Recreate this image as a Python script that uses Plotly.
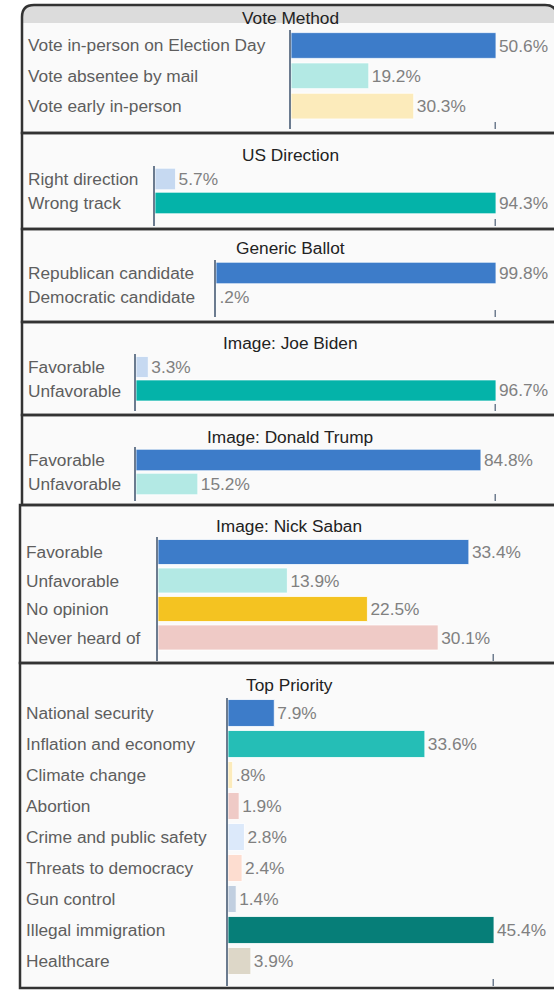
import plotly.graph_objects as go

W, H = 554, 990

# ---------------- data ----------------
vote_method_cats = ["Vote in-person on Election Day", "Vote absentee by mail", "Vote early in-person"]
vote_method_vals = [50.6, 19.2, 30.3]

us_direction_cats = ["Right direction", "Wrong track"]
us_direction_vals = [5.7, 94.3]

generic_ballot_cats = ["Republican candidate", "Democratic candidate"]
generic_ballot_vals = [99.8, 0.2]

biden_cats = ["Favorable", "Unfavorable"]
biden_vals = [3.3, 96.7]

trump_cats = ["Favorable", "Unfavorable"]
trump_vals = [84.8, 15.2]

saban_cats = ["Favorable", "Unfavorable", "No opinion", "Never heard of"]
saban_vals = [33.4, 13.9, 22.5, 30.1]

priority_cats = ["National security", "Inflation and economy", "Climate change", "Abortion",
                 "Crime and public safety", "Threats to democracy", "Gun control",
                 "Illegal immigration", "Healthcare"]
priority_vals = [7.9, 33.6, 0.8, 1.9, 2.8, 2.4, 1.4, 45.4, 3.9]

titles = ["Vote Method", "US Direction", "Generic Ballot", "Image: Joe Biden",
          "Image: Donald Trump", "Image: Nick Saban", "Top Priority"]

# ---------------- styling / layout config ----------------
BLUE, LTEAL, LYEL, LBLUE, TEAL = "#3d7cc9", "#b3e9e4", "#fcebbb", "#c6d9f1", "#04b3a9"
panels = [
    dict(cats=vote_method_cats, vals=vote_method_vals, colors=[BLUE, LTEAL, LYEL],
         xmax=50.6, axis_x=291, tick_x=496, top=30, c0=45.5, s=30.3, bottom=129, bw=0.85,
         label_x=26, title_y=18, py0=5, py1=133, left=22),
    dict(cats=us_direction_cats, vals=us_direction_vals, colors=[LBLUE, TEAL],
         xmax=94.3, axis_x=155, tick_x=496, top=166, c0=179, s=24, bottom=226, bw=0.9,
         label_x=26, title_y=155, py0=133, py1=229, left=22),
    dict(cats=generic_ballot_cats, vals=generic_ballot_vals, colors=[BLUE, LTEAL],
         xmax=99.8, axis_x=216, tick_x=496, top=260, c0=273, s=24, bottom=317, bw=0.9,
         label_x=26, title_y=248, py0=229, py1=322, left=22),
    dict(cats=biden_cats, vals=biden_vals, colors=[LBLUE, TEAL],
         xmax=96.7, axis_x=136, tick_x=496, top=354, c0=367, s=23.5, bottom=411, bw=0.9,
         label_x=26, title_y=343, py0=322, py1=415, left=22),
    dict(cats=trump_cats, vals=trump_vals, colors=[BLUE, LTEAL],
         xmax=88.5, axis_x=136, tick_x=496, top=447, c0=460, s=24, bottom=501, bw=0.9,
         label_x=26, title_y=437, py0=415, py1=505, left=22),
    dict(cats=saban_cats, vals=saban_vals, colors=[BLUE, LTEAL, "#f4c321", "#efcac6"],
         xmax=36.1, axis_x=158, tick_x=494, top=537, c0=552, s=28.5, bottom=661, bw=0.88,
         label_x=24, title_y=526, py0=505, py1=663, left=20),
    dict(cats=priority_cats, vals=priority_vals,
         colors=[BLUE, "#25beb6", LYEL, "#efcac6", "#dce9fa", "#fdddd0", "#c1cfe0", "#067e78", "#ddd7c8"],
         xmax=45.4, axis_x=228, tick_x=494, top=698, c0=713, s=31, bottom=986, bw=0.87,
         label_x=24, title_y=685, py0=663, py1=988, left=20),
]

FONT = "Liberation Sans, Arial, sans-serif"
FS = 17.3
TICK_COLOR = "#6f7d8f"
TICK_LEN = 7


def X(px):
    return px / W


def Y(px):
    return 1 - px / H


def fmt(v):
    s = f"{v:.1f}%"
    if s.startswith("0."):
        s = s[1:]
    return s


fig = go.Figure()
shapes = []
tick_shapes = []
annotations = []
RIGHT = 557

for i, p in enumerate(panels, start=1):
    xa = "x" if i == 1 else f"x{i}"
    ya = "y" if i == 1 else f"y{i}"
    fig.add_trace(go.Bar(
        x=p["vals"], y=p["cats"], orientation="h",
        marker=dict(color=p["colors"], line=dict(color="rgba(255,255,255,0.8)", width=1)),
        width=p["bw"],
        text=[fmt(v) for v in p["vals"]], textposition="outside",
        textfont=dict(color="#808080", size=FS, family=FONT),
        constraintext="none", cliponaxis=False,
        xaxis=xa, yaxis=ya, showlegend=False, hoverinfo="skip",
    ))
    yr = [(p["bottom"] - p["c0"]) / p["s"], (p["top"] - p["c0"]) / p["s"]]
    fig.layout[("xaxis" if i == 1 else f"xaxis{i}")] = dict(
        domain=[X(p["axis_x"]), X(p["tick_x"])], range=[0, p["xmax"]], anchor=ya,
        showgrid=False, zeroline=False, showline=False, showticklabels=False, ticks="",
        fixedrange=True,
    )
    fig.layout[("yaxis" if i == 1 else f"yaxis{i}")] = dict(
        domain=[Y(p["bottom"]), Y(p["top"])], range=yr, anchor=xa, type="category",
        categoryorder="array", categoryarray=p["cats"],
        showgrid=False, zeroline=False, showline=True, linecolor="#6b7b8f", linewidth=2,
        showticklabels=False, ticks="", fixedrange=True,
    )
    # end-of-scale tick mark at the bottom of the axis
    frac = TICK_LEN / (p["bottom"] - p["top"])
    tick_shapes.append(dict(type="line", xref=xa, yref=f"{ya} domain",
                            x0=p["xmax"], x1=p["xmax"], y0=0, y1=frac,
                            line=dict(color=TICK_COLOR, width=3), layer="above"))
    # category labels
    for c in p["cats"]:
        annotations.append(dict(
            x=X(p["label_x"]), xref="paper", y=c, yref=ya, text=c, showarrow=False,
            xanchor="left", yanchor="middle", font=dict(color="#5e5e5e", size=FS, family=FONT),
        ))
    # title
    cx = (p["left"] + RIGHT) / 2 + 0.5
    annotations.append(dict(
        x=X(cx), xref="paper", y=Y(p["title_y"]), yref="paper", text=titles[i - 1],
        showarrow=False, xanchor="center", yanchor="middle",
        font=dict(color="#222222", size=FS, family=FONT),
    ))

# panel backgrounds / borders
BG = "#fafafa"
BORDER = "#333333"
r = 12
p1 = panels[0]
path1 = (f"M {X(p1['left'])},{Y(p1['py1'])} L {X(p1['left'])},{Y(p1['py0'] + r)} "
         f"Q {X(p1['left'])},{Y(p1['py0'])} {X(p1['left'] + r)},{Y(p1['py0'])} "
         f"L {X(RIGHT - r)},{Y(p1['py0'])} Q {X(RIGHT)},{Y(p1['py0'])} {X(RIGHT)},{Y(p1['py0'] + r)} "
         f"L {X(RIGHT)},{Y(p1['py1'])} Z")
hdr_bottom = 23
header = (f"M {X(p1['left'])},{Y(hdr_bottom)} L {X(p1['left'])},{Y(p1['py0'] + r)} "
          f"Q {X(p1['left'])},{Y(p1['py0'])} {X(p1['left'] + r)},{Y(p1['py0'])} "
          f"L {X(RIGHT - r)},{Y(p1['py0'])} Q {X(RIGHT)},{Y(p1['py0'])} {X(RIGHT)},{Y(p1['py0'] + r)} "
          f"L {X(RIGHT)},{Y(hdr_bottom)} Z")
shapes.append(dict(type="path", path=path1, xref="paper", yref="paper",
                   fillcolor=BG, line=dict(width=0), layer="below"))
shapes.append(dict(type="path", path=header, xref="paper", yref="paper",
                   fillcolor="#dcdcdc", line=dict(width=0), layer="below"))
for p in panels[1:]:
    shapes.append(dict(type="rect", xref="paper", yref="paper",
                       x0=X(p["left"]), x1=X(RIGHT), y0=Y(p["py1"]), y1=Y(p["py0"]),
                       fillcolor=BG, line=dict(width=0), layer="below"))
shapes.append(dict(type="path", path=path1, xref="paper", yref="paper",
                   fillcolor="rgba(0,0,0,0)", line=dict(color=BORDER, width=2.5), layer="below"))
for p in panels[1:]:
    shapes.append(dict(type="rect", xref="paper", yref="paper",
                       x0=X(p["left"]), x1=X(RIGHT), y0=Y(p["py1"]), y1=Y(p["py0"]),
                       fillcolor="rgba(0,0,0,0)", line=dict(color=BORDER, width=2.5), layer="below"))
shapes.extend(tick_shapes)

fig.update_layout(
    width=W, height=H, margin=dict(l=0, r=0, t=0, b=0),
    paper_bgcolor="white", plot_bgcolor="rgba(0,0,0,0)",
    shapes=shapes, annotations=annotations, showlegend=False,
    font=dict(family=FONT, size=FS, color="#555555"),
)

fig.write_html("out.html", config={"displayModeBar": False},
               post_script="document.body.style.margin='0';")
